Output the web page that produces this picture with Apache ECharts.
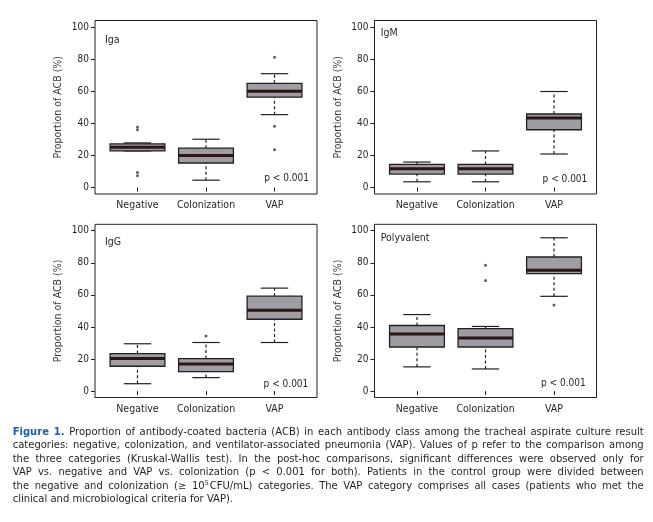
<!DOCTYPE html>
<html>
<head>
<meta charset="utf-8">
<script src="https://cdn.jsdelivr.net/npm/echarts@6/dist/echarts.min.js"></script>
<style>
  html, body { margin: 0; padding: 0; background: #ffffff; }
  #chart { position: absolute; left: 0; top: 0; width: 653px; height: 522px; }
  #caption {
    position: absolute; left: 12.7px; top: 424.5px; width: 631px;
    font-family: "DejaVu Sans", "Liberation Sans", sans-serif;
    font-size: 10px; line-height: 13.6px; color: #231f20;
  }
  #caption .ln { text-align: justify; text-align-last: justify; white-space: nowrap; }
  #caption .last { text-align: left; text-align-last: left; }
  #caption b { color: #1f5ea8; }
  #caption sup { font-size: 6.5px; line-height: 0; vertical-align: 4px; }
</style>
</head>
<body>
<div id="chart"></div>
<div id="caption">
  <div class="ln"><b>Figure 1.</b> Proportion of antibody-coated bacteria (ACB) in each antibody class among the tracheal aspirate culture result</div>
  <div class="ln">categories: negative, colonization, and ventilator-associated pneumonia (VAP). Values of p refer to the comparison among</div>
  <div class="ln">the three categories (Kruskal-Wallis test). In the post-hoc comparisons, significant differences were observed only for</div>
  <div class="ln">VAP vs. negative and VAP vs. colonization (p &lt; 0.001 for both). Patients in the control group were divided between</div>
  <div class="ln">the negative and colonization (≥ 10<sup>5</sup>&#8202;CFU/mL) categories. The VAP category comprises all cases (patients who met the</div>
  <div class="ln last">clinical and microbiological criteria for VAP).</div>
</div>
<script>
// ---- data ----
const categories = ['Negative', 'Colonization', 'VAP'];
const yTicks = [0, 20, 40, 60, 80, 100];
const panelNames = ['Iga', 'IgM', 'IgG', 'Polyvalent'];
const pLabel = 'p < 0.001';
const yTitle = 'Proportion of ACB (%)';

// [min, Q1, median, Q3, max] per category
const igaStats = [[22.8, 22.8, 25.1, 27.2, 27.8], [4.6, 15.3, 19.9, 24.5, 30.1], [45.4, 56.3, 60.0, 64.9, 70.9]];
const igaOutliers = [[37.7, 36.0, 9.4, 7.3], [], [81.2, 38.1, 23.6]];

const igmStats = [[3.6, 8.4, 11.7, 14.4, 15.9], [3.6, 8.4, 11.7, 14.4, 22.8], [20.9, 36.0, 43.3, 45.8, 59.8]];
const igmOutliers = [[], [], []];

const iggStats = [[4.6, 15.5, 20.3, 23.4, 29.5], [8.4, 12.1, 16.9, 20.3, 30.3], [30.3, 44.8, 50.4, 59.2, 64.2]];
const iggOutliers = [[], [34.3], []];

const polyStats = [[15.1, 27.5, 35.6, 40.9, 47.7], [13.8, 27.5, 33.1, 39.0, 40.3], [59.1, 73.2, 75.3, 83.6, 95.6]];
const polyOutliers = [[], [78.4, 69.0], [53.7]];

const panelStats = [igaStats, igmStats, iggStats, polyStats];
const panelOutliers = [igaOutliers, igmOutliers, iggOutliers, polyOutliers];

// ---- layout / style ----
const FONT = '"DejaVu Sans Condensed", "Liberation Sans", sans-serif';
const INK = '#231f20';
const BOX_FILL = '#a09ca3';
const MEDIAN = '#2a1616';

const gridRects = [
  { left: 95, top: 20.5, width: 222, height: 173.5 },
  { left: 374.5, top: 20.5, width: 222, height: 173.5 },
  { left: 95, top: 224.3, width: 222, height: 173.2 },
  { left: 374.5, top: 224.3, width: 222, height: 173.2 }
];
const labelPos = [[105, 40.5], [380.7, 33.5], [105, 242.7], [380.7, 238.3]];
const pPos = [[309, 178.3], [587.3, 179], [308.3, 384], [585.7, 383.3]];

const chart = echarts.init(document.getElementById('chart'), null, { renderer: 'canvas' });

const grid = [], xAxis = [], yAxis = [], series = [], graphic = [];

function renderBox(params, api) {
  const x = api.value(0);
  const mn = api.value(1), q1 = api.value(2), md = api.value(3), q3 = api.value(4), mx = api.value(5);
  const hb = 0.4, hc = 0.2;
  const c = (a, b) => api.coord([a, b]);
  const line = (p1, p2, style) => ({
    type: 'line',
    shape: { x1: p1[0], y1: p1[1], x2: p2[0], y2: p2[1] },
    style: Object.assign({ stroke: INK, lineWidth: 1.2, fill: null }, style)
  });
  const tl = c(x - hb, q3), br = c(x + hb, q1);
  const children = [
    line(c(x, q3), c(x, mx), { lineDash: [3, 2.5] }),
    line(c(x, mn), c(x, q1), { lineDash: [3, 2.5] }),
    line(c(x - hc, mx), c(x + hc, mx), {}),
    line(c(x - hc, mn), c(x + hc, mn), {}),
    {
      type: 'rect',
      shape: { x: tl[0], y: tl[1], width: br[0] - tl[0], height: br[1] - tl[1] },
      style: { fill: BOX_FILL, stroke: INK, lineWidth: 1.3 }
    },
    line(c(x - hb, md), c(x + hb, md), { stroke: MEDIAN, lineWidth: 3 })
  ];
  return { type: 'group', children };
}

panelStats.forEach((stats, i) => {
  grid.push(Object.assign({
    show: true, borderColor: INK, borderWidth: 1, backgroundColor: 'transparent'
  }, gridRects[i]));
  xAxis.push({
    gridIndex: i, type: 'value', min: 0.38, max: 3.62,
    axisLine: { show: false },
    splitLine: { show: false },
    axisTick: { show: true, inside: false, length: 4, customValues: [1, 2, 3], lineStyle: { color: INK, width: 1 } },
    axisLabel: {
      show: true, margin: 6, customValues: [1, 2, 3],
      formatter: v => categories[Math.round(v) - 1] || '',
      color: INK, fontFamily: FONT, fontSize: 10.5
    }
  });
  yAxis.push({
    gridIndex: i, type: 'value', min: -4, max: 104,
    name: yTitle, nameLocation: 'middle', nameRotate: 90, nameGap: 31,
    nameTextStyle: { color: '#3a3637', fontFamily: FONT, fontSize: 10.5 },
    axisLine: { show: false },
    splitLine: { show: false },
    axisTick: { show: true, inside: false, length: 4, customValues: yTicks, lineStyle: { color: INK, width: 1 } },
    axisLabel: {
      show: true, margin: 6, customValues: yTicks,
      color: INK, fontFamily: FONT, fontSize: 10
    }
  });
  series.push({
    type: 'custom', xAxisIndex: i, yAxisIndex: i,
    renderItem: renderBox,
    encode: { x: 0, y: [1, 2, 3, 4, 5] },
    data: stats.map((s, k) => [k + 1].concat(s)),
    silent: true, animation: false, clip: false
  });
  const outs = [];
  panelOutliers[i].forEach((arr, k) => arr.forEach(v => outs.push([k + 1, v])));
  series.push({
    type: 'scatter', xAxisIndex: i, yAxisIndex: i,
    symbol: 'circle', symbolSize: 3,
    itemStyle: { color: '#3a3637' },
    data: outs, silent: true, animation: false
  });
  graphic.push({
    type: 'text', x: labelPos[i][0], y: labelPos[i][1],
    style: { text: panelNames[i], fill: INK, font: '10.5px ' + FONT, align: 'left', verticalAlign: 'middle' }
  });
  graphic.push({
    type: 'text', x: pPos[i][0], y: pPos[i][1],
    style: { text: pLabel, fill: INK, font: '10px ' + FONT, align: 'right', verticalAlign: 'middle' }
  });
});

chart.setOption({
  backgroundColor: '#ffffff',
  animation: false,
  grid, xAxis, yAxis, series, graphic
});
</script>
</body>
</html>
